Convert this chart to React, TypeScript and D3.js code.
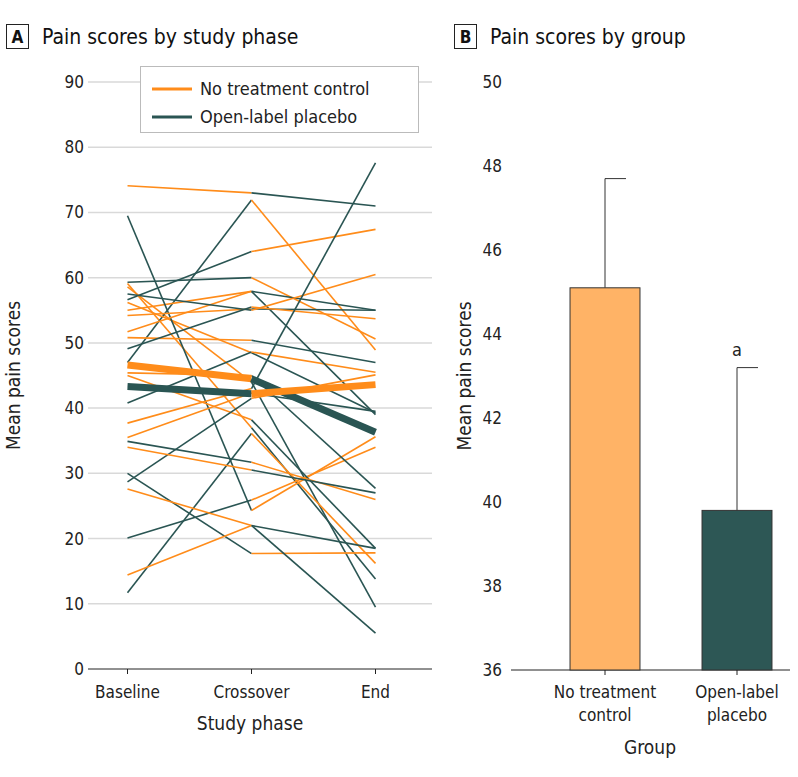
import React from "react";
import * as d3 from "d3";

const phases = ["Baseline", "Crossover", "End"];
const yTicksA = [0, 10, 20, 30, 40, 50, 60, 70, 80, 90];
const yTicksB = [36, 38, 40, 42, 44, 46, 48, 50];

// No treatment control first (orange), then open-label placebo (green)
const ntcFirst: number[][] = [
  [74.1, 73.0, 71.0],
  [59.1, 37.0, 13.8],
  [58.6, 44.0, 9.5],
  [56.2, 48.5, 39.3],
  [55.0, 57.9, 39.0],
  [54.2, 55.2, 55.0],
  [51.7, 57.9, 55.0],
  [50.8, 50.4, 47.0],
  [45.4, 45.0, 27.7],
  [45.0, 38.2, 18.5],
  [37.7, 43.0, 77.6],
  [35.5, 42.3, 39.5],
  [27.6, 22.0, 18.5],
  [14.4, 22.0, 5.5],
  [34.0, 30.5, 27.0],
];
// Open-label placebo first (green), then no treatment (orange)
const olpFirst: number[][] = [
  [56.6, 64.0, 67.4],
  [59.3, 60.0, 50.6],
  [47.0, 71.9, 48.9],
  [40.8, 48.6, 45.5],
  [69.5, 24.3, 35.6],
  [20.1, 25.9, 34.0],
  [30.0, 17.7, 17.8],
  [11.7, 36.1, 16.2],
  [57.5, 55.0, 60.5],
  [49.1, 55.5, 53.7],
  [34.9, 31.7, 26.0],
  [28.7, 41.5, 45.1],
];
const meanNtcFirst = [46.6, 44.5, 36.3];
const meanOlpFirst = [43.3, 42.2, 43.6];

const groups = ["No treatment control", "Open-label placebo"];
const groupLabels = [["No treatment", "control"], ["Open-label", "placebo"]];
const groupMeans = [45.1, 39.8];
const groupUpper = [47.7, 43.2];

const ORANGE = "#FF8C1A";
const GREEN = "#2A5553";
const BAR_ORANGE = "#FFB366";
const BAR_GREEN = "#2D5755";
const GRID = "#d9d9d9";
const FONT = "'Liberation Sans Narrow', 'DejaVu Sans Condensed', 'Roboto', sans-serif";

export default function App() {
  const xA = d3.scalePoint<string>().domain(phases).range([127.5, 375.5]);
  const yA = d3.scaleLinear().domain([0, 90]).range([669, 82]);
  const yB = d3.scaleLinear().domain([36, 50]).range([670, 82]);
  const xB = d3.scaleBand<string>().domain(groups).range([539, 803]).paddingInner(0.47).paddingOuter(0.235);

  const seg = (vals: number[], i: number) =>
    d3.line<number>()
      .x((_, k) => xA(phases[i + k])!)
      .y((v) => yA(v))([vals[i], vals[i + 1]]) || "";

  const thin: React.ReactNode[] = [];
  const n = Math.max(ntcFirst.length, olpFirst.length);
  for (let j = 0; j < n; j++) {
    if (ntcFirst[j]) {
      thin.push(<path key={`n0${j}`} d={seg(ntcFirst[j], 0)} stroke={ORANGE} strokeWidth={1.6} fill="none" />);
      thin.push(<path key={`n1${j}`} d={seg(ntcFirst[j], 1)} stroke={GREEN} strokeWidth={1.6} fill="none" />);
    }
    if (olpFirst[j]) {
      thin.push(<path key={`o0${j}`} d={seg(olpFirst[j], 0)} stroke={GREEN} strokeWidth={1.6} fill="none" />);
      thin.push(<path key={`o1${j}`} d={seg(olpFirst[j], 1)} stroke={ORANGE} strokeWidth={1.6} fill="none" />);
    }
  }

  const axisColor = "#222";
  const tickFs = 17;

  return (
    <svg width={798} height={777} style={{ position: "absolute", left: 0, top: 0, background: "#fff" }} fontFamily={FONT}>
      {/* Panel A header */}
      <rect x={6.5} y={24.5} width={22} height={24} fill="none" stroke="#222" strokeWidth={1} />
      <text x={17.5} y={43} textAnchor="middle" fontSize={17} fontWeight="bold" fill="#111">A</text>
      <text x={42} y={44} fontSize={21} fill="#111">Pain scores by study phase</text>

      {/* Panel B header */}
      <rect x={454.5} y={24.5} width={22} height={24} fill="none" stroke="#222" strokeWidth={1} />
      <text x={465.5} y={43} textAnchor="middle" fontSize={17} fontWeight="bold" fill="#111">B</text>
      <text x={490} y={44} fontSize={21} fill="#111">Pain scores by group</text>

      {/* Panel A grid */}
      {yTicksA.map((t) => (
        <g key={t}>
          {t > 0 && <line x1={88} x2={432} y1={yA(t)} y2={yA(t)} stroke={GRID} strokeWidth={1.5} />}
          <text x={84} y={yA(t) + 6} textAnchor="end" fontSize={tickFs} fill="#222">{t}</text>
        </g>
      ))}
      <line x1={88} x2={432} y1={yA(0)} y2={yA(0)} stroke={axisColor} strokeWidth={1} />
      {phases.map((p) => (
        <g key={p}>
          <line x1={xA(p)} x2={xA(p)} y1={yA(0)} y2={yA(0) + 5} stroke={axisColor} />
          <text x={xA(p)} y={698} textAnchor="middle" fontSize={tickFs} fill="#222">{p}</text>
        </g>
      ))}
      <text x={250} y={730} textAnchor="middle" fontSize={19} fill="#222">Study phase</text>
      <text transform={`translate(20,${yA(45)}) rotate(-90)`} textAnchor="middle" fontSize={19} fill="#222">Mean pain scores</text>

      {/* Panel A lines */}
      <g>{thin}</g>
      <path d={seg(meanNtcFirst, 0)} stroke={ORANGE} strokeWidth={7} fill="none" />
      <path d={seg(meanOlpFirst, 0)} stroke={GREEN} strokeWidth={7} fill="none" />
      <path d={seg(meanNtcFirst, 1)} stroke={GREEN} strokeWidth={7} fill="none" />
      <path d={seg(meanOlpFirst, 1)} stroke={ORANGE} strokeWidth={7} fill="none" />

      {/* Legend */}
      <rect x={140.5} y={66.5} width={278} height={66} fill="#fff" stroke="#bbb" strokeWidth={1} />
      <line x1={152} x2={192} y1={89} y2={89} stroke={ORANGE} strokeWidth={3} />
      <text x={200} y={95} fontSize={18} fill="#222">No treatment control</text>
      <line x1={152} x2={192} y1={117} y2={117} stroke={GREEN} strokeWidth={3} />
      <text x={200} y={123} fontSize={18} fill="#222">Open-label placebo</text>

      {/* Panel B axes */}
      {yTicksB.map((t) => (
        <text key={t} x={502} y={yB(t) + 6} textAnchor="end" fontSize={tickFs} fill="#222">{t}</text>
      ))}
      <line x1={511} x2={790} y1={yB(36)} y2={yB(36)} stroke={axisColor} />

      {groups.map((g, i) => {
        const x0 = xB(g)!;
        const w = xB.bandwidth();
        const cx = x0 + w / 2;
        return (
          <g key={g}>
            <line x1={cx} x2={cx} y1={yB(groupMeans[i])} y2={yB(groupUpper[i])} stroke="#333" strokeWidth={1} />
            <line x1={cx} x2={cx + w * 0.3} y1={yB(groupUpper[i])} y2={yB(groupUpper[i])} stroke="#333" strokeWidth={1} />
            <rect x={x0} y={yB(groupMeans[i])} width={w} height={yB(36) - yB(groupMeans[i])}
              fill={i === 0 ? BAR_ORANGE : BAR_GREEN} stroke="#333" strokeWidth={1} />
            <line x1={cx} x2={cx} y1={yB(36)} y2={yB(36) + 5} stroke={axisColor} />
            {groupLabels[i].map((l, k) => (
              <text key={k} x={cx} y={698 + k * 23} textAnchor="middle" fontSize={tickFs} fill="#222">{l}</text>
            ))}
          </g>
        );
      })}
      <text x={xB(groups[1])! + xB.bandwidth() / 2} y={yB(groupUpper[1]) - 12} textAnchor="middle" fontSize={18} fill="#222">a</text>
      <text x={650} y={754} textAnchor="middle" fontSize={19} fill="#222">Group</text>
      <text transform={`translate(471,376) rotate(-90)`} textAnchor="middle" fontSize={19} fill="#222">Mean pain scores</text>
    </svg>
  );
}
